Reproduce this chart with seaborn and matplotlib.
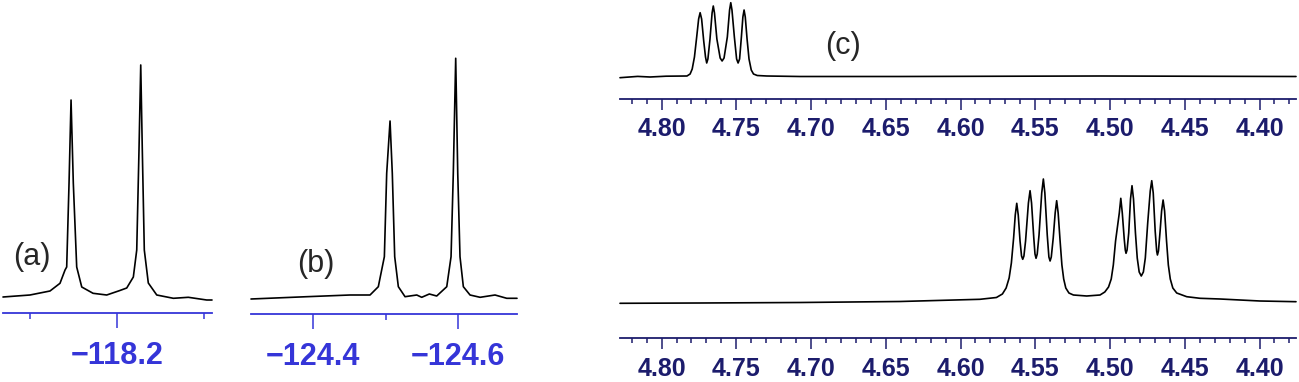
import numpy as np
import pandas as pd
import seaborn as sns
import matplotlib.pyplot as plt
from matplotlib.ticker import MultipleLocator, FuncFormatter


# (a) 19F spectrum, ppm / intensity
ppm_a = [-118.0693, -118.1003, -118.1233, -118.1348, -118.1406, -118.1425, -118.1452,
         -118.1475, -118.1501, -118.1540, -118.1598, -118.1728, -118.1885, -118.2030,
         -118.2115, -118.2191, -118.2230, -118.2256, -118.2276, -118.2294, -118.2317,
         -118.2363, -118.2460, -118.2651, -118.2823, -118.3034, -118.3095]
int_a = [1, 3, 7, 14.7, 28, 31, 115,
         198, 115, 31, 11, 4.7, 3, 7.3,
         10, 21, 48, 148, 233, 148, 48,
         15, 3, -0.3, 0.7, -2, -2]

# (b) 19F spectrum
ppm_b = [-124.3152, -124.3918, -124.4512, -124.4787, -124.4901, -124.4924, -124.4984,
         -124.5016, -124.5062, -124.5093, -124.5126, -124.5176, -124.5268, -124.5429,
         -124.5497, -124.5602, -124.5703, -124.5841, -124.5900, -124.5931, -124.5964,
         -124.5992, -124.6023, -124.6069, -124.6161, -124.6299, -124.6504, -124.6665,
         -124.6806]
int_b = [-1, 1.3, 3, 3, 11.3, 19.7, 41.3,
         124.7, 177, 124.7, 41.3, 11.3, 1.3, 3,
         0.7, 4, 2, 11.3, 41.3, 124.7, 239.7,
         124.7, 41.3, 11.3, 3, 0.7, 3, -0.3,
         -0.3]

# (c) 1H, upper trace (quartet near 4.76)
ppm_c1 = [4.8278, 4.8160, 4.8077, 4.7970, 4.7830, 4.7809, 4.7795, 4.7780, 4.7765,
          4.7752, 4.7742, 4.7732, 4.7718, 4.7706, 4.7698, 4.7690, 4.7676, 4.7662,
          4.7654, 4.7646, 4.7630, 4.7608, 4.7595, 4.7582, 4.7560, 4.7545, 4.7537,
          4.7529, 4.7513, 4.7498, 4.7488, 4.7478, 4.7466, 4.7456, 4.7448, 4.7440,
          4.7428, 4.7415, 4.7400, 4.7385, 4.7360, 4.7296, 4.7074, 4.6405, 4.5067,
          4.3756]
int_c1 = [-0.7, 0.6, 0, 0.8, 1, 3, 8, 20, 40,
          58, 64.3, 58, 36, 20, 14, 18, 38, 64,
          71, 64, 38, 19, 16, 19, 40, 67, 74.3,
          67, 40, 18, 14, 18, 40, 60, 67, 60,
          38, 18, 7, 3, 1.5, 1, 0.5, 0.5, 1,
          0.5]

# (c) 1H, lower trace (two quartets)
ppm_c2 = [4.8278, 4.7742, 4.7074, 4.6405, 4.5870, 4.5760, 4.5720, 4.5695, 4.5675,
          4.5660, 4.5645, 4.5634, 4.5624, 4.5614, 4.5602, 4.5592, 4.5584, 4.5576,
          4.5565, 4.5546, 4.5535, 4.5525, 4.5510, 4.5502, 4.5495, 4.5487, 4.5475,
          4.5457, 4.5446, 4.5436, 4.5420, 4.5409, 4.5401, 4.5393, 4.5380, 4.5367,
          4.5357, 4.5347, 4.5334, 4.5322, 4.5310, 4.5296, 4.5275, 4.5245, 4.5156,
          4.5067, 4.5035, 4.5010, 4.4992, 4.4978, 4.4963, 4.4938, 4.4928, 4.4918,
          4.4905, 4.4898, 4.4893, 4.4886, 4.4875, 4.4863, 4.4853, 4.4843, 4.4830,
          4.4818, 4.4805, 4.4791, 4.4777, 4.4764, 4.4748, 4.4731, 4.4721, 4.4711,
          4.4698, 4.4688, 4.4683, 4.4676, 4.4665, 4.4655, 4.4645, 4.4635, 4.4622,
          4.4610, 4.4597, 4.4580, 4.4554, 4.4487, 4.4398, 4.4264, 4.3997, 4.3756]
int_c2 = [-0.3, 0, 0.5, 1.5, 3.7, 5.5, 9, 15, 25,
          40, 65, 88, 99.7, 88, 62, 47, 43.7, 47,
          62, 100, 112.3, 100, 65, 49, 44.7, 49, 68,
          110, 124, 110, 68, 46, 42, 46, 65, 90,
          102.3, 90, 62, 38, 24, 15, 10, 8, 7,
          8, 11, 16, 24, 38, 62, 90, 104.7, 90,
          64, 53, 49.7, 53, 70, 104, 117.3, 104, 70,
          45, 31, 27, 31, 45, 80, 112, 122.3, 110,
          72, 52, 48, 52, 72, 92, 103, 92, 62,
          38, 24, 15, 10, 6.3, 4.7, 4, 2, 1.3]

W, H = 1299, 382

sns.set_style("white")
plt.rcParams["font.family"] = ["Liberation Sans", "DejaVu Sans"]

fig = plt.figure(figsize=(W / 100, H / 100), dpi=100)


def panel(left, right, y_axis, y_top, y_base, xlim, ppm, inten, color, major, minor,
          decimals, fsize, maj_len, min_len, pad):
    ax = fig.add_axes([left / W, (H - y_axis) / H, (right - left) / W, (y_axis - y_top) / H])
    df = pd.DataFrame({"ppm": ppm, "I": inten})
    sns.lineplot(data=df, x="ppm", y="I", ax=ax, color="black", linewidth=1.2,
                 estimator=None, sort=False)
    ax.set_xlim(*xlim)
    ax.set_ylim(y_base - y_axis, y_base - y_top)
    for s in ["top", "left", "right"]:
        ax.spines[s].set_visible(False)
    ax.spines["bottom"].set_color(color)
    ax.spines["bottom"].set_linewidth(1.3)
    ax.set_yticks([])
    ax.set_xlabel("")
    ax.set_ylabel("")
    ax.xaxis.set_major_locator(MultipleLocator(major))
    ax.xaxis.set_minor_locator(MultipleLocator(minor))
    ax.xaxis.set_major_formatter(
        FuncFormatter(lambda v, p: f"{v:.{decimals}f}".replace("-", "\u2212")))
    ax.tick_params(axis="x", which="major", direction="out", length=maj_len, width=1.1,
                   bottom=True, color=color, labelcolor=color, labelsize=fsize, pad=pad)
    ax.tick_params(axis="x", which="minor", direction="out", length=min_len, width=1.1,
                   bottom=True, color=color)
    for lab in ax.get_xticklabels():
        lab.set_fontweight("bold")
    ax.patch.set_alpha(0)
    for ln in ax.lines:
        ln.set_clip_on(False)
    return ax


blue = "#3535d8"
navy = "#1c1c6c"

ax_a = panel(3, 212, 313, 50, 298, (-118.0693, -118.3095), ppm_a, int_a, blue,
             0.2, 0.1, 1, 22, 11, 4, 9)
ax_b = panel(251, 517, 314, 40, 298, (-124.3152, -124.6806), ppm_b, int_b, blue,
             0.2, 0.1, 1, 22, 11, 4, 9)
ax_c1 = panel(620, 1296, 99, 0, 77, (4.8278, 4.3756), ppm_c1, int_c1, navy,
              0.05, 0.01, 2, 18, 8, 3.5, 5)
ax_c2 = panel(620, 1296, 338, 160, 303, (4.8278, 4.3756), ppm_c2, int_c2, navy,
              0.05, 0.01, 2, 18, 8, 3.5, 6)

fig.text(32 / W, 1 - 257 / H, "(a)", fontsize=22, ha="center", va="center")
fig.text(316 / W, 1 - 264 / H, "(b)", fontsize=22, ha="center", va="center")
fig.text(843 / W, 1 - 46 / H, "(c)", fontsize=22, ha="center", va="center")

fig.savefig("out.png", dpi=100)
